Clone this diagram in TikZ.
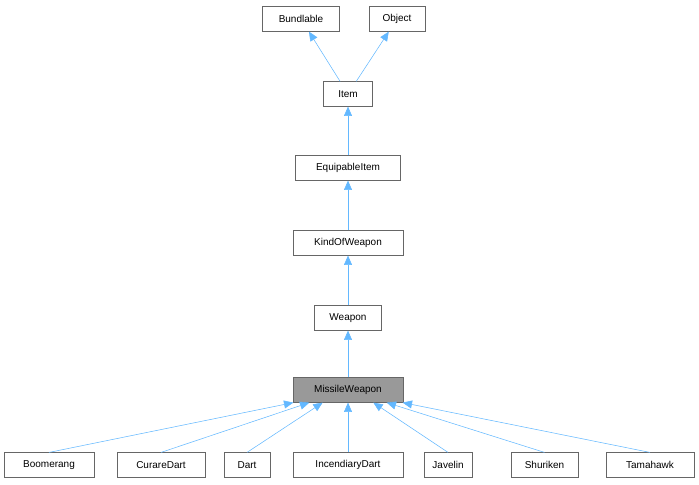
\documentclass[tikz,border=0pt]{standalone}
\usepackage{fontspec}
\setmainfont{Liberation Sans}
\usetikzlibrary{arrows.meta}
\definecolor{edgeblue}{RGB}{99,184,255}
\definecolor{nodegray}{RGB}{153,153,153}
\definecolor{boxgray}{RGB}{102,102,102}
\begin{document}
\begin{tikzpicture}[x=0.75pt,y=-0.75pt,
        cls/.style={draw=boxgray,fill=white,font=\fontsize{7.5}{9}\selectfont,
            minimum height=18.5pt,inner xsep=4pt,inner ysep=0pt},
        inh/.style={-{Triangle[width=6pt,length=7pt,fill=edgeblue]},color=edgeblue}]
	\useasboundingbox (0,0) rectangle (699,485);
	
	\node[cls,minimum width=57.5pt] (bund) at (301,19) {Bundlable};
	\node[cls,minimum width=42pt] (obj) at (397,19) {Object};
	\node[cls,minimum width=36.5pt] (item) at (348,94) {Item};
	\node[cls,minimum width=78.5pt] (equip) at (348,168) {EquipableItem};
	\node[cls,minimum width=82.5pt] (kind) at (348,243) {KindOfWeapon};
	\node[cls,minimum width=50pt] (weap) at (348,318) {Weapon};
	\node[cls,minimum width=82.5pt,fill=nodegray] (mw) at (348,390) {MissileWeapon};
	
	\node[cls,minimum width=67.5pt] (boom) at (49,465) {Boomerang};
	\node[cls,minimum width=66pt] (cur) at (161,465) {CurareDart};
	\node[cls,minimum width=34.5pt] (dart) at (247,465) {Dart};
	\node[cls,minimum width=82.5pt] (inc) at (348,465) {IncendiaryDart};
	\node[cls,minimum width=36pt] (jav) at (448,465) {Javelin};
	\node[cls,minimum width=50pt] (shu) at (544.5,465) {Shuriken};
	\node[cls,minimum width=66pt] (tam) at (650,465) {Tamahawk};
	
	\draw[inh] (item) -- (bund);
	\draw[inh] (item) -- (obj);
	\draw[inh] (equip) -- (item);
	\draw[inh] (kind) -- (equip);
	\draw[inh] (weap) -- (kind);
	\draw[inh] (mw) -- (weap);
	
	\draw[inh] (boom.north) -- ([xshift=-41pt]mw.south);
	\draw[inh] (cur.north) -- ([xshift=-29pt]mw.south);
	\draw[inh] (dart.north) -- ([xshift=-19pt]mw.south);
	\draw[inh] (inc) -- (mw);
	\draw[inh] (jav.north) -- ([xshift=19pt]mw.south);
	\draw[inh] (shu.north) -- ([xshift=29pt]mw.south);
	\draw[inh] (tam.north) -- ([xshift=41pt]mw.south);
\end{tikzpicture}
\end{document}
